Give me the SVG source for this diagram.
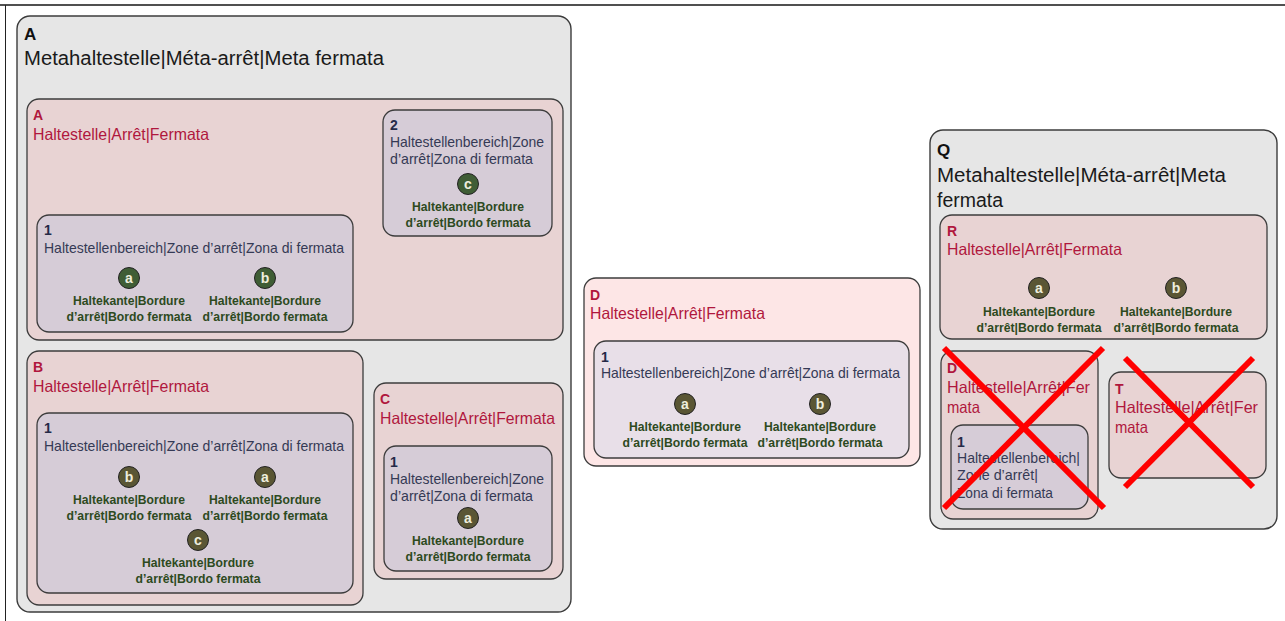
<svg xmlns="http://www.w3.org/2000/svg" width="1285" height="621" viewBox="0 0 1285 621">
<style>
text{font-family:"Liberation Sans",Arial,sans-serif}
.meta{fill:#e6e6e6;stroke:#3c3c3c;stroke-width:1.4}
.stop{fill:#e8d3d3;stroke:#3c3c3c;stroke-width:1.3}
.stopl{fill:#fde6e6;stroke:#3c3c3c;stroke-width:1.3}
.zone{fill:#d6ccd7;stroke:#3c3c3c;stroke-width:1.3}
.zonel{fill:#e8dfe8;stroke:#3c3c3c;stroke-width:1.3}
.tm{font-size:20px;fill:#1a1a1a}
.tmk{font-size:17px;font-weight:bold;fill:#111}
.ts{font-size:16.5px;fill:#b0173d}
.tsk{font-size:14px;font-weight:bold;fill:#b0173d}
.tz{font-size:14.5px;fill:#353a55}
.tzk{font-size:14px;font-weight:bold;fill:#252a48}
.lb{font-size:12.5px;font-weight:bold;fill:#2d4a1e;text-anchor:middle}
.cg{fill:#3f5d35;stroke:#222;stroke-width:1}
.co{fill:#5a5634;stroke:#222;stroke-width:1}
.ct{font-size:14px;font-weight:bold;fill:#eeeedd;text-anchor:middle}
.x{stroke:#ff0000;stroke-width:6;stroke-linecap:butt}
</style>
<g id="frame">
<line x1="0" y1="5" x2="1285" y2="5" stroke="#505050" stroke-width="2"/>
<line x1="5.5" y1="5" x2="5.5" y2="621" stroke="#222" stroke-width="1"/>
</g>

<g id="meta-A">
<rect class="meta" x="17" y="16" width="554" height="596" rx="13"/>
<text class="tmk" x="24" y="40">A</text>
<text class="tm" x="24" y="65" textLength="360" lengthAdjust="spacingAndGlyphs">Metahaltestelle|Méta-arrêt|Meta fermata</text>
</g>

<g id="stop-A">
<rect class="stop" x="27" y="99" width="536" height="241" rx="12"/>
<text class="tsk" x="33" y="120">A</text>
<text class="ts" x="33" y="140" textLength="176" lengthAdjust="spacingAndGlyphs">Haltestelle|Arrêt|Fermata</text>
</g>
<g id="zone-A2">
<rect class="zone" x="383" y="110" width="169" height="126" rx="12"/>
<text class="tzk" x="390" y="130">2</text>
<text class="tz" x="390" y="147" textLength="154" lengthAdjust="spacingAndGlyphs">Haltestellenbereich|Zone</text>
<text class="tz" x="390" y="164" textLength="143" lengthAdjust="spacingAndGlyphs">d’arrêt|Zona di fermata</text>
<circle class="cg" cx="468" cy="184" r="10.5"/>
<text class="ct" x="468" y="189">c</text>
<text class="lb" x="468" y="211" textLength="112" lengthAdjust="spacingAndGlyphs">Haltekante|Bordure</text>
<text class="lb" x="468" y="227" textLength="125" lengthAdjust="spacingAndGlyphs">d’arrêt|Bordo fermata</text>
</g>
<g id="zone-A1">
<rect class="zone" x="37" y="215" width="316" height="117" rx="12"/>
<text class="tzk" x="44" y="235">1</text>
<text class="tz" x="44" y="253" textLength="300" lengthAdjust="spacingAndGlyphs">Haltestellenbereich|Zone d’arrêt|Zona di fermata</text>
<circle class="cg" cx="129" cy="278" r="10.5"/>
<text class="ct" x="129" y="283">a</text>
<text class="lb" x="129" y="305" textLength="112" lengthAdjust="spacingAndGlyphs">Haltekante|Bordure</text>
<text class="lb" x="129" y="321" textLength="125" lengthAdjust="spacingAndGlyphs">d’arrêt|Bordo fermata</text>
<circle class="cg" cx="265" cy="278" r="10.5"/>
<text class="ct" x="265" y="283">b</text>
<text class="lb" x="265" y="305" textLength="112" lengthAdjust="spacingAndGlyphs">Haltekante|Bordure</text>
<text class="lb" x="265" y="321" textLength="125" lengthAdjust="spacingAndGlyphs">d’arrêt|Bordo fermata</text>
</g>

<g id="stop-B">
<rect class="stop" x="27" y="351" width="336" height="254" rx="12"/>
<text class="tsk" x="33" y="372">B</text>
<text class="ts" x="33" y="392" textLength="176" lengthAdjust="spacingAndGlyphs">Haltestelle|Arrêt|Fermata</text>
</g>
<g id="zone-B1">
<rect class="zone" x="37" y="413" width="316" height="180" rx="12"/>
<text class="tzk" x="44" y="433">1</text>
<text class="tz" x="44" y="451" textLength="300" lengthAdjust="spacingAndGlyphs">Haltestellenbereich|Zone d’arrêt|Zona di fermata</text>
<circle class="co" cx="129" cy="477" r="10.5"/>
<text class="ct" x="129" y="482">b</text>
<text class="lb" x="129" y="504" textLength="112" lengthAdjust="spacingAndGlyphs">Haltekante|Bordure</text>
<text class="lb" x="129" y="520" textLength="125" lengthAdjust="spacingAndGlyphs">d’arrêt|Bordo fermata</text>
<circle class="co" cx="265" cy="477" r="10.5"/>
<text class="ct" x="265" y="482">a</text>
<text class="lb" x="265" y="504" textLength="112" lengthAdjust="spacingAndGlyphs">Haltekante|Bordure</text>
<text class="lb" x="265" y="520" textLength="125" lengthAdjust="spacingAndGlyphs">d’arrêt|Bordo fermata</text>
<circle class="co" cx="198" cy="540" r="10.5"/>
<text class="ct" x="198" y="545">c</text>
<text class="lb" x="198" y="567" textLength="112" lengthAdjust="spacingAndGlyphs">Haltekante|Bordure</text>
<text class="lb" x="198" y="583" textLength="125" lengthAdjust="spacingAndGlyphs">d’arrêt|Bordo fermata</text>
</g>

<g id="stop-C">
<rect class="stop" x="374" y="383" width="189" height="196" rx="12"/>
<text class="tsk" x="380" y="404">C</text>
<text class="ts" x="380" y="424" textLength="175" lengthAdjust="spacingAndGlyphs">Haltestelle|Arrêt|Fermata</text>
</g>
<g id="zone-C1">
<rect class="zone" x="384" y="446" width="168" height="125" rx="12"/>
<text class="tzk" x="390" y="467">1</text>
<text class="tz" x="390" y="484" textLength="154" lengthAdjust="spacingAndGlyphs">Haltestellenbereich|Zone</text>
<text class="tz" x="390" y="501" textLength="143" lengthAdjust="spacingAndGlyphs">d’arrêt|Zona di fermata</text>
<circle class="co" cx="468" cy="518" r="10.5"/>
<text class="ct" x="468" y="523">a</text>
<text class="lb" x="468" y="545" textLength="112" lengthAdjust="spacingAndGlyphs">Haltekante|Bordure</text>
<text class="lb" x="468" y="561" textLength="125" lengthAdjust="spacingAndGlyphs">d’arrêt|Bordo fermata</text>
</g>

<g id="stop-D">
<rect class="stopl" x="584" y="278" width="336" height="188" rx="12"/>
<text class="tsk" x="590" y="300">D</text>
<text class="ts" x="590" y="319" textLength="175" lengthAdjust="spacingAndGlyphs">Haltestelle|Arrêt|Fermata</text>
</g>
<g id="zone-D1">
<rect class="zonel" x="594" y="341" width="315" height="117" rx="12"/>
<text class="tzk" x="601" y="362">1</text>
<text class="tz" x="601" y="378" textLength="299" lengthAdjust="spacingAndGlyphs">Haltestellenbereich|Zone d’arrêt|Zona di fermata</text>
<circle class="co" cx="685" cy="404" r="10.5"/>
<text class="ct" x="685" y="409">a</text>
<text class="lb" x="685" y="431" textLength="112" lengthAdjust="spacingAndGlyphs">Haltekante|Bordure</text>
<text class="lb" x="685" y="447" textLength="125" lengthAdjust="spacingAndGlyphs">d’arrêt|Bordo fermata</text>
<circle class="co" cx="820" cy="404" r="10.5"/>
<text class="ct" x="820" y="409">b</text>
<text class="lb" x="820" y="431" textLength="112" lengthAdjust="spacingAndGlyphs">Haltekante|Bordure</text>
<text class="lb" x="820" y="447" textLength="125" lengthAdjust="spacingAndGlyphs">d’arrêt|Bordo fermata</text>
</g>

<g id="meta-Q">
<rect class="meta" x="930" y="130" width="347" height="399" rx="13"/>
<text class="tmk" x="937" y="156">Q</text>
<text class="tm" x="937" y="182" textLength="289" lengthAdjust="spacingAndGlyphs">Metahaltestelle|Méta-arrêt|Meta</text>
<text class="tm" x="937" y="207" textLength="66" lengthAdjust="spacingAndGlyphs">fermata</text>
</g>
<g id="stop-R">
<rect class="stop" x="940" y="215" width="327" height="124" rx="12"/>
<text class="tsk" x="947" y="236">R</text>
<text class="ts" x="947" y="255" textLength="175" lengthAdjust="spacingAndGlyphs">Haltestelle|Arrêt|Fermata</text>
<circle class="co" cx="1039" cy="288" r="10.5"/>
<text class="ct" x="1039" y="293">a</text>
<text class="lb" x="1039" y="316" textLength="112" lengthAdjust="spacingAndGlyphs">Haltekante|Bordure</text>
<text class="lb" x="1039" y="332" textLength="125" lengthAdjust="spacingAndGlyphs">d’arrêt|Bordo fermata</text>
<circle class="co" cx="1176" cy="288" r="10.5"/>
<text class="ct" x="1176" y="293">b</text>
<text class="lb" x="1176" y="316" textLength="112" lengthAdjust="spacingAndGlyphs">Haltekante|Bordure</text>
<text class="lb" x="1176" y="332" textLength="125" lengthAdjust="spacingAndGlyphs">d’arrêt|Bordo fermata</text>
</g>
<g id="stop-QD">
<rect class="stop" x="941" y="351" width="157" height="168" rx="12"/>
<text class="tsk" x="947" y="373">D</text>
<text class="ts" x="947" y="393" textLength="143" lengthAdjust="spacingAndGlyphs">Haltestelle|Arrêt|Fer</text>
<text class="ts" x="947" y="413" textLength="33" lengthAdjust="spacingAndGlyphs">mata</text>
</g>
<g id="zone-QD1">
<rect class="zone" x="951" y="425" width="137" height="84" rx="12"/>
<text class="tzk" x="957" y="447">1</text>
<text class="tz" x="957" y="463" textLength="123" lengthAdjust="spacingAndGlyphs">Haltestellenbereich|</text>
<text class="tz" x="957" y="480" textLength="81" lengthAdjust="spacingAndGlyphs">Zone d’arrêt|</text>
<text class="tz" x="957" y="498" textLength="96" lengthAdjust="spacingAndGlyphs">Zona di fermata</text>
</g>
<g id="stop-T">
<rect class="stop" x="1109" y="372" width="157" height="106" rx="12"/>
<text class="tsk" x="1115" y="394">T</text>
<text class="ts" x="1115" y="413" textLength="143" lengthAdjust="spacingAndGlyphs">Haltestelle|Arrêt|Fer</text>
<text class="ts" x="1115" y="433" textLength="33" lengthAdjust="spacingAndGlyphs">mata</text>
</g>
<g id="crosses">
<line class="x" x1="944" y1="348" x2="1104" y2="508"/>
<line class="x" x1="1103" y1="348" x2="944" y2="508"/>
<line class="x" x1="1125" y1="358" x2="1253" y2="487"/>
<line class="x" x1="1253" y1="358" x2="1125" y2="487"/>
</g>
</svg>
